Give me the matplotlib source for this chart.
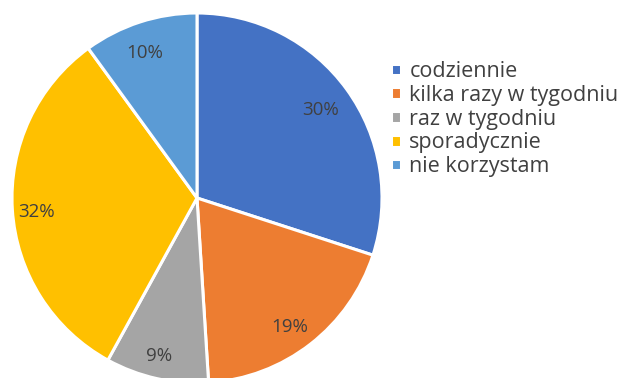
import matplotlib
matplotlib.use("Agg")
import matplotlib.pyplot as plt

labels = ["codziennie", "kilka razy w tygodniu", "raz w tygodniu", "sporadycznie", "nie korzystam"]
values = [30, 19, 9, 32, 10]
colors = ["#4472C4", "#ED7D31", "#A5A5A5", "#FFC000", "#5B9BD5"]

plt.rcParams['font.family'] = ['Open Sans', 'DejaVu Sans']

fig = plt.figure(figsize=(6.29, 3.78), dpi=100)
# pie centre ~ (197, 198) px, radius ~185 px
ax = fig.add_axes([12 / 629, (378 - 383) / 378, 370 / 629, 370 / 378])
wedges, texts, autotexts = ax.pie(
    values, colors=colors, startangle=90, counterclock=False,
    autopct='%1.0f%%', pctdistance=0.85, radius=1,
    wedgeprops=dict(edgecolor='white', linewidth=2.2),
    textprops=dict(color='#404040', fontsize=13.5))
# excel puts the labels a touch lower than the wedge midline
for t in autotexts:
    x, y = t.get_position()
    t.set_position((x - 0.02, y - 0.025))
ax.set_xlim(-1, 1)
ax.set_ylim(-1, 1)
ax.set_aspect('equal')

fig.legend(wedges, labels, loc='upper left', bbox_to_anchor=(391 / 629, 1 - 61 / 378),
           frameon=False, fontsize=15.5, labelcolor='#404040',
           handlelength=0.45, handleheight=0.45, handletextpad=0.4,
           labelspacing=0.13, borderpad=0, borderaxespad=0)

fig.savefig("out.png", dpi=100)
